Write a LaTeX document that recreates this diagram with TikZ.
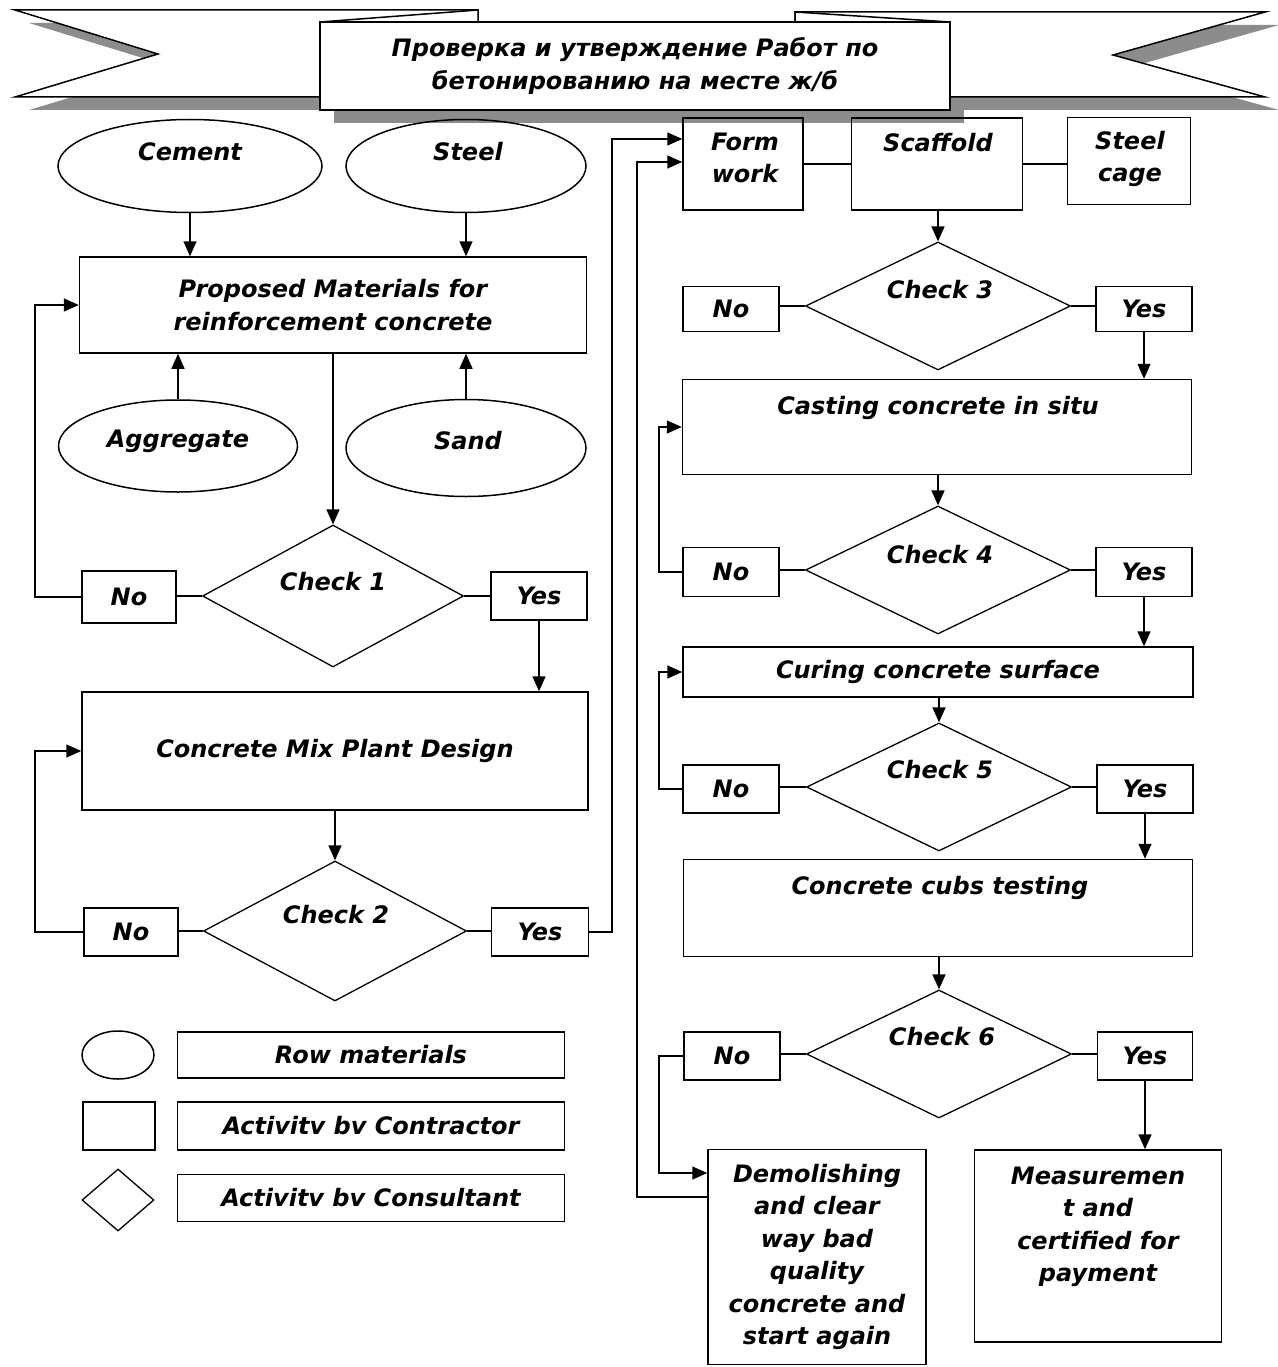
\documentclass[tikz,border=0pt]{standalone}
\usepackage{fontspec}
\setmainfont{DejaVu Sans}[BoldFont={DejaVu Sans Bold},ItalicFont={DejaVu Sans Oblique},BoldItalicFont={DejaVu Sans Bold Oblique}]
\usetikzlibrary{shapes.geometric,arrows.meta,positioning}
\newcommand{\chartfont}{\fontsize{24}{32.4}\selectfont\bfseries\itshape}

\begin{document}
\begin{tikzpicture}[x=1pt,y=-1pt,
  every node/.style={font=\chartfont},
  rawmat/.style={draw, ellipse, line width=1.5pt, inner sep=0pt},
  work/.style={draw, rectangle, line width=1.5pt, inner sep=0pt, align=center},
  check/.style={draw, diamond, line width=1.3pt, inner sep=0pt, minimum width=265pt, minimum height=128pt},
  answer/.style={draw, rectangle, line width=1.5pt, inner sep=0pt, minimum width=96pt, minimum height=48pt},
  caption/.style={inner sep=0pt, align=center},
  link/.style={line width=1.5pt},
  flow/.style={line width=1.5pt, -{Triangle[length=15pt,width=13pt]}},
  ribbon/.style={draw, line width=1.5pt, fill=white, line join=miter},
  ribbonshadow/.style={fill=black!45}]
  \useasboundingbox (0,0) rectangle (1277,1367);

  % Title ribbon
  \begin{scope}[shift={(14,13)}]
    \fill[ribbonshadow] (15,10) -- (478,10) -- (478,97) -- (15,97) -- (158,54) -- cycle;
    \fill[ribbonshadow] (795,12) -- (1265,12) -- (1113,55) -- (1265,97) -- (795,97) -- cycle;
    \fill[ribbonshadow] (320,22) rectangle (950,110);
  \end{scope}
  \draw[ribbon] (15,10) -- (478,10) -- (478,97) -- (15,97) -- (158,54) -- cycle;
  \draw[ribbon] (795,12) -- (1265,12) -- (1113,55) -- (1265,97) -- (795,97) -- cycle;
  \draw[ribbon] (478,10) -- (478,22) -- (320,22) -- cycle;
  \draw[ribbon] (795,12) -- (795,22) -- (950,22) -- cycle;
  \node[work, fill=white, minimum width=630pt, minimum height=88pt] (banner) at (635,66)
    {Проверка и утверждение Работ по\\бетонированию на месте ж/б};

  % Raw materials and proposal
  \node[rawmat, minimum width=264pt, minimum height=93pt] (cement) at (190,166) {};
  \node[rawmat, minimum width=240pt, minimum height=93pt] (steel) at (466,166) {};
  \node[rawmat, minimum width=239pt, minimum height=92pt] (aggregate) at (178,446) {};
  \node[rawmat, minimum width=240pt, minimum height=97pt] (sand) at (466,448) {};
  \node[caption] (cementtxt) at (190,152) {Cement};
  \node[caption] (steeltxt) at (468,152) {Steel};
  \node[caption] (aggregatetxt) at (178,441) {Aggregate};
  \node[caption] (sandtxt) at (468,441) {Sand};
  \node[work, minimum width=507pt, minimum height=96pt] (proposed) at (333,305)
    {Proposed Materials for\\reinforcement concrete};
  \draw[flow] (cement.south) -- (cement.south |- proposed.north);
  \draw[flow] (steel.south) -- (steel.south |- proposed.north);
  \draw[flow] (aggregate.north) -- (aggregate.north |- proposed.south);
  \draw[flow] (sand.north) -- (sand.north |- proposed.south);

  % Check 1 and mix design
  \coordinate (leftbus) at (35,0);
  \node[check, minimum width=261pt, minimum height=142pt] (check1) at (333,596) {};
  \node[caption] (check1txt) at (333,582) {Check 1};
  \node[answer, minimum width=94pt, minimum height=52pt] (no1) at (129,597) {No};
  \node[answer] (yes1) at (539,596) {Yes};
  \node[work, minimum width=506pt, minimum height=118pt] (mix) at (335,751) {Concrete Mix Plant Design};
  \draw[flow] (check1.north |- proposed.south) -- (check1.north);
  \draw[link] (check1.west) -- (check1.west -| no1.east);
  \draw[link] (check1.east) -- (check1.east -| yes1.west);
  \draw[flow] (no1.west) -- (no1.west -| leftbus) |- (proposed.west);
  \draw[flow] (yes1.south) -- (yes1.south |- mix.north);

  % Check 2
  \node[check, minimum width=263pt, minimum height=140pt] (check2) at (335,931) {};
  \node[caption] (check2txt) at (336,915) {Check 2};
  \node[answer, minimum width=94pt] (no2) at (131,932) {No};
  \node[answer, minimum width=97pt] (yes2) at (540,932) {Yes};
  \draw[flow] (check2.north |- mix.south) -- (check2.north);
  \draw[link] (check2.west) -- (check2.west -| no2.east);
  \draw[link] (check2.east) -- (check2.east -| yes2.west);
  \draw[flow] (no2.west) -- (no2.west -| leftbus) |- (mix.west);

  % Legend
  \node[rawmat, minimum width=72pt, minimum height=48pt] (legmat) at (118,1055) {};
  \node[draw, line width=1.5pt, minimum width=72pt, minimum height=48pt] (legwork) at (119,1126) {};
  \node[check, minimum width=72pt, minimum height=62pt] (legcheck) at (118,1200) {};
  \node[work, minimum width=387pt, minimum height=46pt] (legmattxt) at (371,1055) {Row materials};
  \node[work, minimum width=387pt, minimum height=48pt] (legworktxt) at (371,1126) {Activitv bv Contractor};
  \node[work, minimum width=387pt, minimum height=47pt] (legchecktxt) at (371,1198) {Activitv bv Consultant};

  % Site works
  \node[work, minimum width=120pt, minimum height=92pt] (form) at (743,164) {};
  \node[caption] (formtxt) at (745,158) {Form\\work};
  \node[work, minimum width=171pt, minimum height=92pt] (scaffold) at (937,164) {};
  \node[caption] (scaffoldtxt) at (938,143) {Scaffold};
  \node[work, minimum width=123pt, minimum height=87pt] (cage) at (1129,161) {};
  \node[caption] (cagetxt) at (1130,159) {Steel\\cage};
  \draw[link] (form.east) -- (scaffold.west);
  \draw[link] (scaffold.east) -- (scaffold.east -| cage.west);
  \coordinate (busA) at (612,0);
  \coordinate (busB) at (637,0);
  \coordinate (rightbus) at (659,0);
  \draw[flow] (yes2.east) -- (yes2.east -| busA) |- ([yshift=25pt]form.west);

  % Check 3 and casting
  \node[check] (check3) at (938,306) {};
  \node[caption] (check3txt) at (940,290) {Check 3};
  \node[answer, minimum height=45pt] (no3) at (731,309) {No};
  \node[answer, minimum height=45pt] (yes3) at (1144,309) {Yes};
  \draw[flow] (check3.north |- scaffold.south) -- (check3.north);
  \draw[link] (check3.west) -- (check3.west -| no3.east);
  \draw[link] (check3.east) -- (check3.east -| yes3.west);
  \node[work, minimum width=509pt, minimum height=95pt] (casting) at (937,427) {};
  \node[caption] (castingtxt) at (938,408) {Casting concrete in situ};
  \draw[flow] (yes3.south) -- (yes3.south |- casting.north);

  % Check 4 and curing
  \node[check] (check4) at (938,570) {};
  \node[caption] (check4txt) at (940,555) {Check 4};
  \node[answer, minimum height=49pt] (no4) at (731,572) {No};
  \node[answer, minimum height=49pt] (yes4) at (1144,572) {Yes};
  \draw[flow] (check4.north |- casting.south) -- (check4.north);
  \draw[link] (check4.west) -- (check4.west -| no4.east);
  \draw[link] (check4.east) -- (check4.east -| yes4.west);
  \draw[flow] (no4.west) -- (no4.west -| rightbus) |- (casting.west);
  \node[work, minimum width=510pt, minimum height=50pt] (curing) at (938,672) {Curing concrete surface};
  \draw[flow] (yes4.south) -- (yes4.south |- curing.north);

  % Check 5 and cube testing
  \node[check] (check5) at (939,787) {};
  \node[caption] (check5txt) at (940,770) {Check 5};
  \node[answer] (no5) at (731,789) {No};
  \node[answer] (yes5) at (1145,789) {Yes};
  \draw[flow] (check5.north |- curing.south) -- (check5.north);
  \draw[link] (check5.west) -- (check5.west -| no5.east);
  \draw[link] (check5.east) -- (check5.east -| yes5.west);
  \draw[flow] (no5.west) -- (no5.west -| rightbus) |- (curing.west);
  \node[work, minimum width=509pt, minimum height=97pt] (cubs) at (938,908) {};
  \node[caption] (cubstxt) at (940,888) {Concrete cubs testing};
  \draw[flow] (yes5.south) -- (yes5.south |- cubs.north);

  % Check 6 and outcomes
  \node[check] (check6) at (939,1054) {};
  \node[caption] (check6txt) at (942,1037) {Check 6};
  \node[answer] (no6) at (732,1056) {No};
  \node[answer, minimum width=95pt] (yes6) at (1145,1056) {Yes};
  \draw[flow] (check6.north |- cubs.south) -- (check6.north);
  \draw[link] (check6.west) -- (check6.west -| no6.east);
  \draw[link] (check6.east) -- (check6.east -| yes6.west);
  \node[work, minimum width=218pt, minimum height=215pt] (demol) at (817,1257)
    {Demolishing\\and clear\\way bad\\quality\\concrete and\\start again};
  \node[work, minimum width=247pt, minimum height=192pt] (measure) at (1098,1246) {};
  \node[caption] (measuretxt) at (1098,1227) {Measuremen\\t and\\certified for\\payment};
  \draw[flow] (no6.west) -- (no6.west -| rightbus) |- ([yshift=84pt]demol.west);
  \draw[flow] (yes6.south) -- (yes6.south |- measure.north);
  \draw[flow] ([yshift=60pt]demol.west) -- ([yshift=60pt]demol.west -| busB) |- ([yshift=2pt]form.west);
\end{tikzpicture}
\end{document}
